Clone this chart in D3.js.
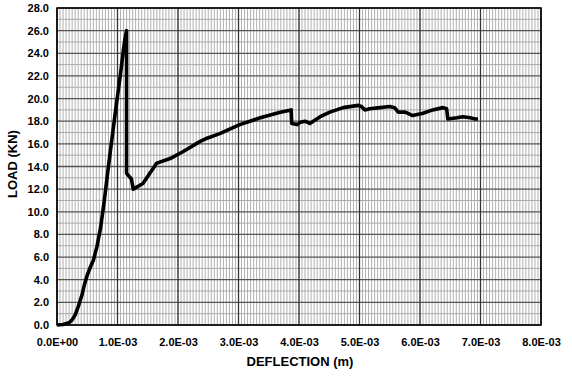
<!DOCTYPE html>
<html>
<head>
<meta charset="utf-8">
<script src="https://cdn.jsdelivr.net/npm/d3@7"></script>
<style>
  body { margin: 0; background: #fff; }
  text { font-family: "Liberation Sans", Arial, sans-serif; font-weight: bold; }
</style>
</head>
<body>
<script>
// deflection in units of 1E-3 m, load in kN
var deflection = [0, 0.1, 0.2, 0.25, 0.3, 0.35, 0.41, 0.46, 0.5, 0.55, 0.6, 0.66, 0.72, 0.78, 0.85, 0.95, 1.05, 1.1, 1.13, 1.15,
    1.15, 1.18, 1.23, 1.26, 1.42, 1.65, 1.87, 2.08, 2.36, 2.48, 2.69, 3.02, 3.36, 3.69, 3.87,
    3.88, 3.97, 4.02, 4.1, 4.18, 4.35, 4.51, 4.73, 4.98, 5.03, 5.09, 5.17, 5.34, 5.5, 5.58, 5.64, 5.75, 5.8, 5.88,
    6.05, 6.21, 6.38, 6.44, 6.46, 6.61, 6.71, 6.83, 6.91, 6.96];
var load = [0, 0.05, 0.2, 0.45, 0.9, 1.6, 2.6, 3.7, 4.4, 5.1, 5.7, 6.9, 8.6, 10.9, 14.0, 18.2, 22.2, 24.4, 25.5, 26.0,
    13.4, 13.2, 12.9, 12.0, 12.5, 14.3, 14.7, 15.3, 16.2, 16.5, 16.9, 17.7, 18.3, 18.8, 19.0,
    17.8, 17.7, 17.9, 18.0, 17.8, 18.4, 18.8, 19.2, 19.4, 19.3, 19.0, 19.1, 19.2, 19.3, 19.2, 18.8, 18.8, 18.7, 18.5,
    18.7, 19.0, 19.2, 19.1, 18.2, 18.3, 18.4, 18.3, 18.2, 18.2];
var xTicks = d3.range(0, 8.01, 1);
var yTicks = d3.range(0, 28.01, 2);

var w = 572, h = 380;
var m = { left: 57, right: 31, top: 8, bottom: 55 };
var pw = w - m.left - m.right, ph = h - m.top - m.bottom;

var svg = d3.select("body").append("svg").attr("width", w).attr("height", h);
var g = svg.append("g").attr("transform", "translate(" + m.left + "," + m.top + ")");

var x = d3.scaleLinear().domain([0, 8]).range([0, pw]);
var y = d3.scaleLinear().domain([0, 28]).range([ph, 0]);

// minor grid
g.append("g").selectAll("line")
    .data(d3.range(0, 8.001, 0.05))
    .enter().append("line")
    .attr("x1", d => x(d)).attr("x2", d => x(d))
    .attr("y1", 0).attr("y2", ph)
    .attr("stroke", "#b0b0b0").attr("stroke-width", 1);
g.append("g").selectAll("line")
    .data(d3.range(1, 28, 2))
    .enter().append("line")
    .attr("x1", 0).attr("x2", pw)
    .attr("y1", d => y(d)).attr("y2", d => y(d))
    .attr("stroke", "#aaa").attr("stroke-width", 1);

// major grid
g.append("g").selectAll("line")
    .data(yTicks)
    .enter().append("line")
    .attr("x1", 0).attr("x2", pw)
    .attr("y1", d => y(d)).attr("y2", d => y(d))
    .attr("stroke", "#555").attr("stroke-width", 1.3);
g.append("g").selectAll("line")
    .data(xTicks)
    .enter().append("line")
    .attr("x1", d => x(d)).attr("x2", d => x(d))
    .attr("y1", 0).attr("y2", ph)
    .attr("stroke", "#333").attr("stroke-width", 1.3);

g.append("rect").attr("width", pw).attr("height", ph)
    .attr("fill", "none").attr("stroke", "#000").attr("stroke-width", 1.5);

// axes
var xAxis = d3.axisBottom(x).tickValues(xTicks).tickSize(0).tickPadding(13)
    .tickFormat(d => d.toFixed(1) + (d == 0 ? "E+00" : "E-03"));
var yAxis = d3.axisLeft(y).tickValues(yTicks).tickSize(0).tickPadding(8)
    .tickFormat(d => d.toFixed(1));

g.append("g").attr("transform", "translate(0," + ph + ")").call(xAxis)
    .call(a => a.select(".domain").remove())
    .selectAll("text").style("font-size", "11px").attr("fill", "#000");
g.append("g").call(yAxis)
    .call(a => a.select(".domain").remove())
    .selectAll("text").style("font-size", "11px").attr("fill", "#000");

svg.append("text").attr("x", m.left + pw / 2 + 1).attr("y", 366)
    .attr("text-anchor", "middle").style("font-size", "13px").text("DEFLECTION (m)");
svg.append("text").attr("transform", "translate(17,164) rotate(-90)")
    .attr("text-anchor", "middle").style("font-size", "13px").text("LOAD (KN)");

var line = d3.line().x((d, i) => x(deflection[i])).y(d => y(d));
g.append("path").datum(load)
    .attr("fill", "none").attr("stroke", "#000").attr("stroke-width", 3.6)
    .attr("stroke-linejoin", "round").attr("d", line);
</script>
</body>
</html>
